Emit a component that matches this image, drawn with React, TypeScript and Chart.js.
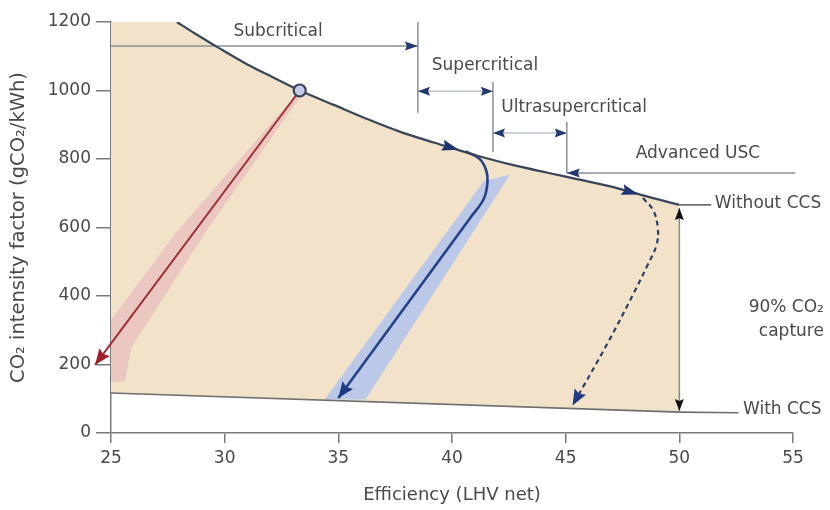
import React, { useEffect, useRef } from 'react';
import { Chart, registerables } from 'chart.js';

Chart.register(...registerables);

// ---- axis ticks ----
const xTicks = [25, 30, 35, 40, 45, 50, 55];
const yTicks = [0, 200, 400, 600, 800, 1000, 1200];

// ---- boundary curves ----
const withoutCcsX = [27.9, 28.8, 29.7, 31.0, 32.2, 33.3, 34.8, 36.3, 37.7, 39.2, 40.2, 41.2, 42.7, 44.2, 45.6, 47.1, 48.6, 50];
const withoutCcsY = [1200, 1162, 1126, 1076, 1036, 1000, 958, 916, 880, 848, 828, 808, 782, 760, 740, 718, 690, 666];
const withCcsX = [25, 50];
const withCcsY = [117, 61];
const withCcsLeaderX = [50, 52.6];
const withCcsLeaderY = [61, 59];
const withoutCcsLeaderX = [50, 51.4];
const withoutCcsLeaderY = [666, 666];

// ---- reference plant & retrofit paths ----
const refPointX = [33.3];
const refPointY = [1000];
const redPathX = [33.3, 24.3];
const redPathY = [1000, 199];
const redBandX = [33.4, 29.1, 25.9, 25.6, 23.6, 24.1, 27.8, 33.05];
const redBandY = [990, 580, 250, 150, 150, 250, 580, 980];
const bluePathX = [40.6, 41.2, 41.5, 41.56, 41.4, 40.8, 37.9, 35.0];
const bluePathY = [822, 801, 768, 733, 684, 628, 365, 102];
const blueBandX = [34.4, 41.4, 42.55, 36.2];
const blueBandY = [98, 735, 755, 98];
const dashPathX = [48.4, 48.85, 49.05, 49.0, 48.6, 48.0, 46.85, 45.3];
const dashPathY = [686, 650, 600, 550, 490, 409, 263, 80];
const curveArrow1X = [39.4, 40.3];
const curveArrow1Y = [844, 827];
const curveArrow2X = [47.4, 48.2];
const curveArrow2Y = [713, 696];

// ---- technology brackets ----
const subcritX = [25, 38.5];
const subcritY = [1130, 1130];
const subcritVX = [38.5, 38.5];
const subcritVY = [1200, 935];
const supercritX = [38.5, 41.8];
const supercritY = [998, 998];
const supercritVX = [41.8, 41.8];
const supercritVY = [1025, 820];
const ultraX = [41.8, 45.05];
const ultraY = [876, 876];
const ultraVX = [45.05, 45.05];
const ultraVY = [908, 759];
const advX = [45.05, 55.1];
const advY = [759, 759];
const captureX = [50, 50];
const captureY = [657, 64];

// ---- annotation texts ----
const labelTexts = ['Subcritical', 'Supercritical', 'Ultrasupercritical', 'Advanced USC', 'Without CCS', 'With CCS', '90% CO₂', 'capture'];
const labelX = [32.35, 41.45, 45.37, 50.82, 51.56, 52.8, 56.36, 56.36];
const labelY = [1171, 1074, 949, 815, 671, 67, 365, 295];
const labelAlign = ['center', 'center', 'center', 'center', 'left', 'left', 'right', 'right'];

const pts = (xs: number[], ys: number[]) => xs.map((x, i) => ({ x, y: ys[i] }));

const FONT = "'DejaVu Sans', 'Liberation Sans', sans-serif";

const arrowPlugin = {
  id: 'arrowHeads',
  afterDatasetsDraw(chart: any) {
    const ctx = chart.ctx;
    chart.data.datasets.forEach((ds: any, i: number) => {
      if (!ds.arrowEnd && !ds.arrowStart) return;
      const meta = chart.getDatasetMeta(i);
      const p = meta.data;
      if (!p || p.length < 2) return;
      const draw = (tip: any, from: any) => {
        const ang = Math.atan2(tip.y - from.y, tip.x - from.x);
        const L = ds.arrowLen || 12;
        const W = ds.arrowHalf || 5;
        ctx.save();
        ctx.translate(tip.x, tip.y);
        ctx.rotate(ang);
        ctx.beginPath();
        ctx.moveTo(0, 0);
        ctx.lineTo(-L, -W);
        ctx.lineTo(-L * 0.85, 0);
        ctx.lineTo(-L, W);
        ctx.closePath();
        ctx.fillStyle = ds.arrowColor || '#1f3570';
        ctx.fill();
        ctx.restore();
      };
      if (ds.arrowEnd) draw(p[p.length - 1], p[p.length - 2]);
      if (ds.arrowStart) draw(p[0], p[1]);
    });
  },
};

const labelPlugin = {
  id: 'textLabels',
  afterDraw(chart: any) {
    const ctx = chart.ctx;
    const xs = chart.scales.x;
    const ys = chart.scales.y;
    ctx.save();
    ctx.font = `17px ${FONT}`;
    ctx.fillStyle = '#4a4a4a';
    ctx.textBaseline = 'middle';
    labelTexts.forEach((t, i) => {
      ctx.textAlign = labelAlign[i];
      ctx.fillText(t, xs.getPixelForValue(labelX[i]), ys.getPixelForValue(labelY[i]));
    });
    ctx.restore();
  },
};

export default function App() {
  const ref = useRef<HTMLCanvasElement | null>(null);

  useEffect(() => {
    document.body.style.margin = '0';
    Chart.defaults.font.family = FONT;
    const lineDs = (xs: number[], ys: number[], color: string, width: number, extra: any = {}) => ({
      data: pts(xs, ys),
      showLine: true,
      borderColor: color,
      borderWidth: width,
      pointRadius: 0,
      fill: false,
      tension: 0,
      order: 5,
      ...extra,
    });

    const fillPoly = [
      { x: xTicks[0], y: yTicks[yTicks.length - 1] },
      ...pts(withoutCcsX, withoutCcsY),
      { x: withCcsX[1], y: withCcsY[1] },
      { x: withCcsX[0], y: withCcsY[0] },
    ];

    const datasets: any[] = [
      { data: fillPoly, showLine: true, borderWidth: 0, borderColor: 'rgba(0,0,0,0)', backgroundColor: '#f1e2c9', fill: 'shape', pointRadius: 0, order: 20 },
      { data: pts(redBandX, redBandY), showLine: true, borderWidth: 0, borderColor: 'rgba(0,0,0,0)', backgroundColor: 'rgba(226,160,182,0.4)', fill: 'shape', pointRadius: 0, order: 19 },
      { data: pts(blueBandX, blueBandY), showLine: true, borderWidth: 0, borderColor: 'rgba(0,0,0,0)', backgroundColor: 'rgba(168,190,242,0.72)', fill: 'shape', pointRadius: 0, order: 19 },
      lineDs(withCcsX, withCcsY, '#6e6e6e', 1.6),
      lineDs(withCcsLeaderX, withCcsLeaderY, '#6e6e6e', 1.6, { clip: false }),
      lineDs(withoutCcsLeaderX, withoutCcsLeaderY, '#6e6e6e', 1.6, { clip: false }),
      lineDs(withoutCcsX, withoutCcsY, '#3a4557', 2.2, { tension: 0.3 }),
      lineDs(subcritX, subcritY, '#8a8f98', 1.5, { arrowEnd: true, arrowColor: '#22386e', arrowLen: 13, arrowHalf: 4.5 }),
      lineDs(subcritVX, subcritVY, '#8a8f98', 1.5),
      lineDs(supercritX, supercritY, '#9aa6b8', 1, { arrowEnd: true, arrowStart: true, arrowColor: '#22386e', arrowLen: 12, arrowHalf: 4.5 }),
      lineDs(supercritVX, supercritVY, '#8a8f98', 1.5),
      lineDs(ultraX, ultraY, '#9aa6b8', 1, { arrowEnd: true, arrowStart: true, arrowColor: '#22386e', arrowLen: 12, arrowHalf: 4.5 }),
      lineDs(ultraVX, ultraVY, '#8a8f98', 1.5),
      lineDs(advX, advY, '#8a8f98', 1.5, { arrowStart: true, arrowColor: '#22386e', arrowLen: 13, arrowHalf: 4.5, clip: false }),
      lineDs(captureX, captureY, '#8c8c8c', 1.6, { arrowEnd: true, arrowStart: true, arrowColor: '#111111', arrowLen: 12, arrowHalf: 4.5 }),
      lineDs(redPathX, redPathY, '#9e2f35', 2, { clip: false, arrowEnd: true, arrowColor: '#a01f28', arrowLen: 16, arrowHalf: 6.5 }),
      lineDs(bluePathX, bluePathY, '#25418a', 2.6, { tension: 0.4, arrowEnd: true, arrowColor: '#1f3a85', arrowLen: 16, arrowHalf: 6.5 }),
      lineDs(dashPathX, dashPathY, '#2f3d62', 2.2, { tension: 0.4, borderDash: [5, 4], arrowEnd: true, arrowColor: '#203a80', arrowLen: 16, arrowHalf: 6.5 }),
      { data: pts(curveArrow1X, curveArrow1Y), showLine: false, pointRadius: 0, arrowEnd: true, arrowColor: '#1f3570', arrowLen: 17, arrowHalf: 5.5, order: 2 },
      { data: pts(curveArrow2X, curveArrow2Y), showLine: false, pointRadius: 0, arrowEnd: true, arrowColor: '#1f3570', arrowLen: 17, arrowHalf: 5.5, order: 2 },
      { data: pts(refPointX, refPointY), showLine: false, pointRadius: 6, pointBorderWidth: 2.2, pointBackgroundColor: '#c6c9e8', pointBorderColor: '#34405c', order: 0 },
    ];

    const chart = new Chart(ref.current as HTMLCanvasElement, {
      type: 'scatter',
      data: { datasets },
      plugins: [arrowPlugin, labelPlugin],
      options: {
        animation: false,
        responsive: false,
        events: [],
        layout: { padding: { top: 22, right: 37, bottom: 0, left: 0 } },
        plugins: { legend: { display: false }, tooltip: { enabled: false } },
        scales: {
          x: {
            type: 'linear',
            min: xTicks[0],
            max: xTicks[xTicks.length - 1],
            afterBuildTicks: (s: any) => { s.ticks = xTicks.map((v) => ({ value: v })); },
            afterFit: (s: any) => { s.height = 77; },
            ticks: { color: '#4a4a4a', font: { size: 17, family: FONT }, padding: 5, autoSkip: false, maxRotation: 0, callback: (v: any) => String(v) },
            grid: { drawOnChartArea: false, drawTicks: true, tickLength: 10, color: '#7a7a7a', lineWidth: 1.5 },
            border: { display: true, color: '#7a7a7a', width: 1.5 },
            title: { display: true, text: 'Efficiency (LHV net)', color: '#4a4a4a', font: { size: 18, family: FONT }, padding: { top: 0, bottom: 4 } },
          },
          y: {
            type: 'linear',
            min: yTicks[0],
            max: yTicks[yTicks.length - 1],
            afterBuildTicks: (s: any) => { s.ticks = yTicks.map((v) => ({ value: v })); },
            afterFit: (s: any) => { s.width = 111; },
            ticks: { color: '#4a4a4a', font: { size: 17, family: FONT }, padding: 5, callback: (v: any) => String(v) },
            grid: { drawOnChartArea: false, drawTicks: true, tickLength: 15, color: '#7a7a7a', lineWidth: 1.5 },
            border: { display: true, color: '#7a7a7a', width: 1.5 },
            title: { display: true, text: 'CO₂ intensity factor (gCO₂/kWh)', color: '#4a4a4a', font: { size: 19.5, family: FONT }, padding: { top: 7, bottom: 0 } },
          },
        },
      } as any,
    });
    return () => chart.destroy();
  }, []);

  return (
    <div style={{ width: 830, height: 510 }}>
      <canvas ref={ref} width={830} height={510} style={{ display: 'block' }} />
    </div>
  );
}
